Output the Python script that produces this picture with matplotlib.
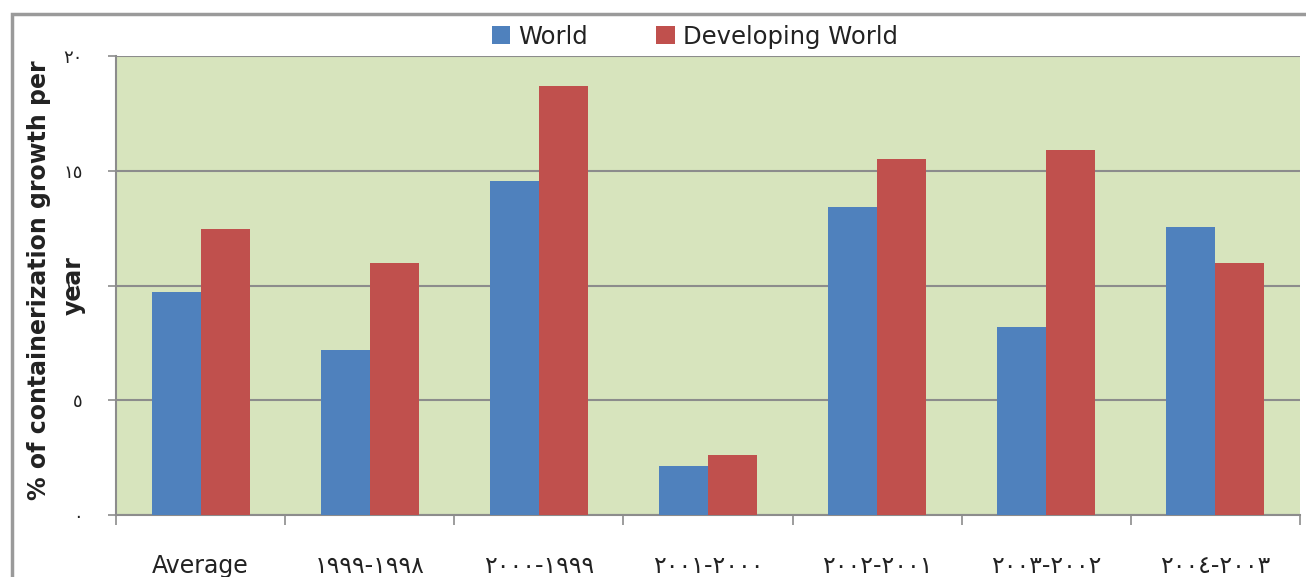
import numpy as np
import matplotlib.pyplot as plt
from matplotlib.patches import Rectangle

periods = ['Average', '١٩٩٩-١٩٩٨', '٢٠٠٠-١٩٩٩', '٢٠٠١-٢٠٠٠',
           '٢٠٠٢-٢٠٠١', '٢٠٠٣-٢٠٠٢', '٢٠٠٤-٢٠٠٣']
world = [9.7, 7.2, 14.55, 2.15, 13.4, 8.2, 12.55]
developing = [12.45, 11.0, 18.7, 2.6, 15.5, 15.9, 11.0]
ytick_vals = [0, 5, 10, 15, 20]
ytick_text = ['٠', '٥', '١٠', '١٥', '٢٠']

fig = plt.figure(figsize=(13.06, 5.77), dpi=100)
ax = fig.add_axes([116/1306, 1-515/577, 1184/1306, 459/577])
ax.set_facecolor('#d7e4bd')

x = np.arange(len(periods))
w = 0.29
ax.bar(x - w/2, world, w, color='#4f81bd', label='World', zorder=3)
ax.bar(x + w/2, developing, w, color='#c0504d', label='Developing World', zorder=3)

ax.set_xlim(-0.5, len(periods) - 0.5)
ax.set_ylim(0, 20)
ax.set_yticks(ytick_vals)
ax.set_yticklabels(ytick_text, fontsize=13, color='#222222')
ax.yaxis.grid(True, color='#8c8c8c', linewidth=1.5, zorder=0)
ax.tick_params(axis='y', length=6, width=1.2, color='#8c8c8c', pad=18)

ax.set_xticks(x)
ax.set_xticklabels(periods, fontsize=17, color='#222222')
ax.tick_params(axis='x', length=0, pad=28)
ax.set_xticks(np.arange(-0.5, len(periods)), minor=True)
ax.tick_params(axis='x', which='minor', length=7, width=1.2, color='#8c8c8c')

for side in ['top', 'right']:
    ax.spines[side].set_visible(False)
for side in ['left', 'bottom']:
    ax.spines[side].set_color('#8c8c8c')
    ax.spines[side].set_linewidth(1.5)

# y label drawn as two separate rotated lines
ylab = dict(rotation=90, fontsize=17, fontweight='bold', color='#222222',
            ha='center', va='center')
fig.text(39/1306, 1-280/577, '% of containerization growth per', **ylab)
fig.text(74/1306, 1-286/577, 'year', **ylab)

ax.legend(loc='lower center', bbox_to_anchor=(0.489, 0.995), ncol=2, frameon=False,
          fontsize=17.5, handlelength=0.75, handleheight=0.75, columnspacing=2.8,
          handletextpad=0.35, borderaxespad=0, labelcolor='#222222')

# outer chart frame
fig.patches.append(Rectangle((12/1306, -0.1), 1.2, 1 - 14/577 + 0.1,
                             transform=fig.transFigure, fill=False,
                             edgecolor='#9a9a9a', linewidth=2.5))

fig.savefig('out.png', dpi=100)
